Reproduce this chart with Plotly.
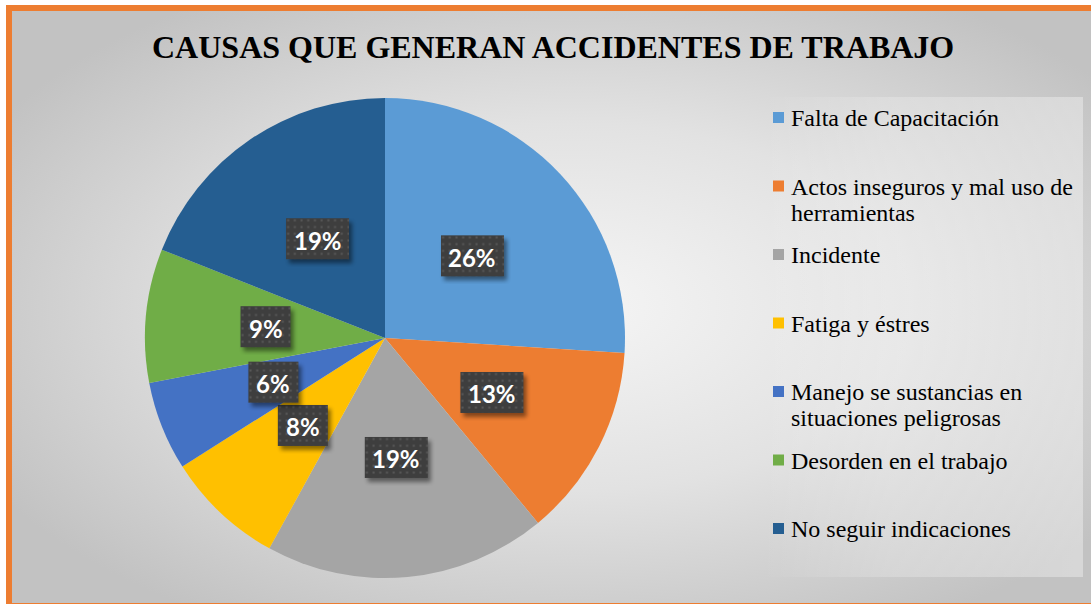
import base64
import math

import plotly.graph_objects as go

# ---- data -------------------------------------------------------------
title_text = "CAUSAS QUE GENERAN ACCIDENTES DE TRABAJO"
categories = [
    "Falta de Capacitación",
    "Actos inseguros y mal uso de\nherramientas",
    "Incidente",
    "Fatiga y éstres",
    "Manejo se sustancias en\nsituaciones peligrosas",
    "Desorden en el trabajo",
    "No seguir indicaciones",
]
values = [26, 13, 19, 8, 6, 9, 19]
colors = ["#5B9BD5", "#ED7D31", "#A5A5A5", "#FFC000", "#4472C4", "#70AD47", "#255E91"]

# ---- canvas geometry (pixels) ----------------------------------------
W, H = 1091, 604
PIE_CX, PIE_CY, PIE_R = 385, 338, 240


def px(x):
    return x / W


def py(y):
    return 1 - y / H


def svg_uri(svg):
    return "data:image/svg+xml;base64," + base64.b64encode(svg.encode("utf-8")).decode("ascii")


# background: elliptical grey gradient for the chart area, plus a legend panel
# that brightens towards its right-hand side
BG_W, BG_H = W - 12, H - 12
bg_svg = f"""<svg xmlns="http://www.w3.org/2000/svg" width="{BG_W}" height="{BG_H}" viewBox="0 0 {BG_W} {BG_H}" preserveAspectRatio="none">
<defs>
<radialGradient id="g" cx="0.52" cy="0.5" r="0.62">
<stop offset="0" stop-color="#f5f5f5"/>
<stop offset="0.5" stop-color="#e2e2e2"/>
<stop offset="1" stop-color="#c2c2c2"/>
</radialGradient>
<linearGradient id="lg" x1="0" y1="0" x2="1" y2="0">
<stop offset="0" stop-color="#ffffff" stop-opacity="0"/>
<stop offset="0.4" stop-color="#ffffff" stop-opacity="0.22"/>
<stop offset="1" stop-color="#ffffff" stop-opacity="0.35"/>
</linearGradient>
</defs>
<rect x="0" y="0" width="{BG_W}" height="{BG_H}" fill="url(#g)"/>
<rect x="{762 - 12}" y="{97 - 11}" width="321" height="480" fill="url(#lg)"/>
</svg>"""


def box_svg(w, h, pad):
    tw, th = w + 2 * pad, h + 2 * pad
    return f"""<svg xmlns="http://www.w3.org/2000/svg" width="{tw}" height="{th}" viewBox="0 0 {tw} {th}" preserveAspectRatio="none">
<defs>
<filter id="s" x="-50%" y="-50%" width="200%" height="200%"><feGaussianBlur stdDeviation="2.2"/></filter>
<pattern id="p" width="6.7" height="6.7" patternUnits="userSpaceOnUse">
<rect width="6.7" height="6.7" fill="#3e3e3e"/><rect x="2.4" y="2.4" width="2" height="2" fill="#585858"/>
</pattern>
</defs>
<rect x="{pad + 3}" y="{pad + 4}" width="{w}" height="{h}" fill="#000" opacity="0.45" filter="url(#s)"/>
<rect x="{pad}" y="{pad}" width="{w}" height="{h}" fill="url(#p)"/>
</svg>"""


fig = go.Figure()

fig.add_trace(
    go.Pie(
        labels=[c.replace("\n", " ") for c in categories],
        values=values,
        marker=dict(colors=colors, line=dict(width=0)),
        sort=False,
        direction="clockwise",
        rotation=0,
        textinfo="none",
        hoverinfo="label+percent",
        showlegend=False,
        domain=dict(x=[px(PIE_CX - PIE_R), px(PIE_CX + PIE_R)],
                    y=[py(PIE_CY + PIE_R), py(PIE_CY - PIE_R)]),
    )
)

images = [
    dict(source=svg_uri(bg_svg), xref="paper", yref="paper", x=px(12), y=py(11),
         sizex=BG_W / W, sizey=BG_H / H, xanchor="left", yanchor="top",
         sizing="stretch", layer="below"),
]
annotations = [
    dict(text=title_text, x=px(553), y=py(47), xref="paper", yref="paper",
         xanchor="center", yanchor="middle", showarrow=False,
         font=dict(family="Liberation Serif", size=32, color="#000000", weight="bold")),
]
shapes = [
    # orange frame around the chart
    dict(type="rect", xref="paper", yref="paper", x0=px(9), y0=py(8), x1=px(W + 10), y1=py(606),
         line=dict(color="#ED7D31", width=6), fillcolor="rgba(0,0,0,0)", layer="below"),
]

# percentage labels: dark patterned boxes at half the radius, mid-angle of each slice
total = sum(values)
cum = 0
BOX_H, PAD = 41, 8
for v in values:
    mid = (cum + v / 2) / total * 2 * math.pi
    cum += v
    cx = PIE_CX + 0.5 * PIE_R * math.sin(mid)
    cy = PIE_CY - 0.5 * PIE_R * math.cos(mid)
    label = f"{v}%"
    digits = len(str(v))
    bw = 18 + 13 * digits + 19
    images.append(dict(
        source=svg_uri(box_svg(bw, BOX_H, PAD)), xref="paper", yref="paper",
        x=px(cx - bw / 2 - PAD), y=py(cy - BOX_H / 2 - PAD),
        sizex=(bw + 2 * PAD) / W, sizey=(BOX_H + 2 * PAD) / H,
        xanchor="left", yanchor="top", sizing="stretch", layer="above"))
    annotations.append(dict(
        text=label, x=px(cx), y=py(cy + 1.5), xref="paper", yref="paper",
        xanchor="center", yanchor="middle", showarrow=False,
        font=dict(family="Lato", size=24, color="#ffffff", weight="bold")))

# legend: coloured square + label lines, evenly spaced slots
LEG_X, LEG_BASE0, LEG_STEP, LINE_STEP = 773, 126, 68.5, 26
for i, (cat, col) in enumerate(zip(categories, colors)):
    base = LEG_BASE0 + i * LEG_STEP
    shapes.append(dict(type="rect", xref="paper", yref="paper",
                       x0=px(LEG_X), x1=px(LEG_X + 11), y0=py(base - 3), y1=py(base - 14),
                       fillcolor=col, line=dict(width=0), layer="above"))
    for j, line in enumerate(cat.split("\n")):
        annotations.append(dict(
            text=line, x=px(789), y=py(base + j * LINE_STEP - 8), xref="paper", yref="paper",
            xanchor="left", yanchor="middle", showarrow=False,
            font=dict(family="Liberation Serif", size=24, color="#000000")))

fig.update_layout(
    width=W, height=H,
    margin=dict(l=0, r=0, t=0, b=0),
    paper_bgcolor="#ffffff",
    plot_bgcolor="rgba(0,0,0,0)",
    images=images,
    annotations=annotations,
    shapes=shapes,
    showlegend=False,
)

fig.write_html("out.html")
